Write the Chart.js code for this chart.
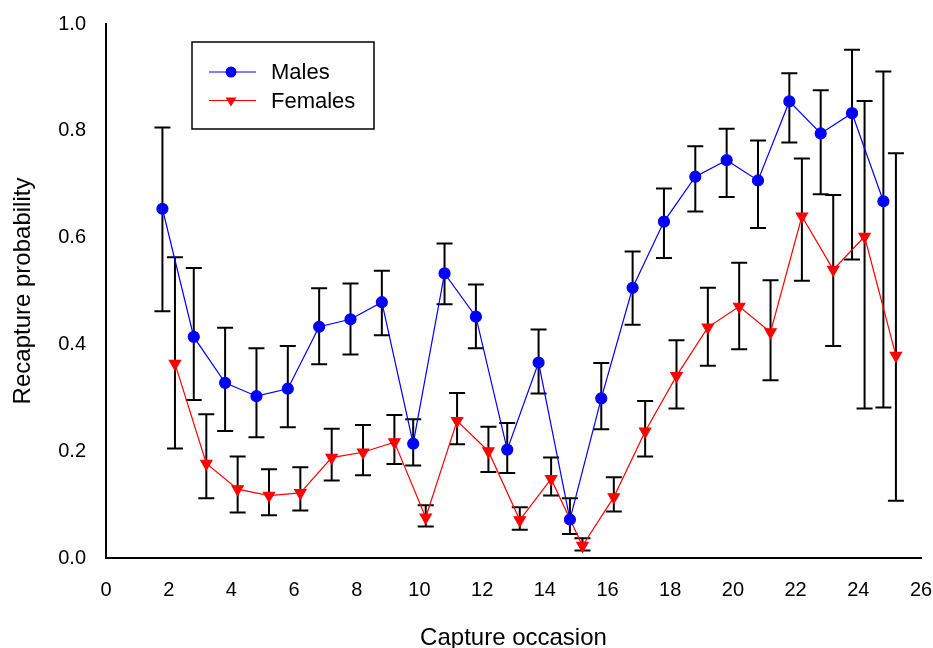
<!DOCTYPE html>
<html>
<head>
<meta charset="utf-8">
<script src="https://cdn.jsdelivr.net/npm/chart.js@4.4.1/dist/chart.umd.min.js"></script>
<style>
  html, body { margin: 0; padding: 0; background: #fff; }
  #wrap { width: 933px; height: 648px; }
</style>
</head>
<body>
<div id="wrap"><canvas id="myChart" width="933" height="648"></canvas></div>
<script>
// capture occasions (males drawn 0.2 left, females 0.2 right)
const occasions = [2, 3, 4, 5, 6, 7, 8, 9, 10, 11, 12, 13, 14, 15, 16, 17, 18, 19, 20, 21, 22, 23, 24, 25]

const malesP = [0.654, 0.414, 0.328, 0.303, 0.317, 0.433, 0.447, 0.479, 0.214, 0.533, 0.452, 0.203, 0.366, 0.072, 0.299, 0.506, 0.630, 0.714, 0.745, 0.707, 0.855, 0.795, 0.833, 0.668]
const malesLo = [0.462, 0.296, 0.238, 0.226, 0.245, 0.363, 0.381, 0.417, 0.173, 0.475, 0.393, 0.159, 0.308, 0.045, 0.241, 0.437, 0.562, 0.649, 0.676, 0.618, 0.778, 0.681, 0.559, 0.282]
const malesHi = [0.806, 0.543, 0.431, 0.393, 0.397, 0.505, 0.514, 0.538, 0.260, 0.589, 0.512, 0.253, 0.428, 0.112, 0.365, 0.574, 0.692, 0.771, 0.804, 0.782, 0.908, 0.876, 0.952, 0.911]

const femalesP = [0.364, 0.177, 0.129, 0.117, 0.122, 0.188, 0.198, 0.217, 0.076, 0.257, 0.200, 0.071, 0.148, 0.023, 0.114, 0.237, 0.341, 0.432, 0.471, 0.423, 0.640, 0.540, 0.602, 0.379]
const femalesLo = [0.205, 0.112, 0.085, 0.080, 0.089, 0.145, 0.155, 0.176, 0.059, 0.213, 0.161, 0.053, 0.117, 0.014, 0.087, 0.190, 0.280, 0.360, 0.391, 0.333, 0.519, 0.397, 0.280, 0.107]
const femalesHi = [0.563, 0.269, 0.190, 0.166, 0.170, 0.242, 0.249, 0.268, 0.099, 0.309, 0.246, 0.095, 0.188, 0.037, 0.151, 0.294, 0.408, 0.506, 0.553, 0.520, 0.748, 0.680, 0.856, 0.758]

const xTicks = [0, 2, 4, 6, 8, 10, 12, 14, 16, 18, 20, 22, 24, 26]
const yTicks = [0.0, 0.2, 0.4, 0.6, 0.8, 1.0]

const fontName = "'Liberation Sans', Arial, sans-serif"

function toPoints(offset, vals, lo, hi) {
    return occasions.map((o, i) => {
        return { x: o + offset, y: vals[i], lo: lo[i], hi: hi[i] }
    })
}

// error bars behind the markers
const errorBars = {
    id: 'errorBars',
    beforeDatasetsDraw(chart) {
        const ctx = chart.ctx
        const xs = chart.scales.x
        const ys = chart.scales.y
        ctx.save()
        ctx.strokeStyle = '#000'
        ctx.lineWidth = 2
        chart.data.datasets.forEach(ds => {
            ds.data.forEach(p => {
                const px = xs.getPixelForValue(p.x)
                const top = ys.getPixelForValue(p.hi)
                const bot = ys.getPixelForValue(p.lo)
                ctx.beginPath()
                ctx.moveTo(px, top); ctx.lineTo(px, bot)
                ctx.moveTo(px - 8, top); ctx.lineTo(px + 8, top)
                ctx.moveTo(px - 8, bot); ctx.lineTo(px + 8, bot)
                ctx.stroke()
            })
        })
        ctx.restore()
    }
}

// boxed legend inside the plot
const boxLegend = {
    id: 'boxLegend',
    afterDraw(chart) {
        const ctx = chart.ctx
        const x0 = 192, y0 = 42, w = 182, h = 87
        ctx.save()
        ctx.fillStyle = '#fff'
        ctx.fillRect(x0, y0, w, h)
        ctx.strokeStyle = '#000'
        ctx.lineWidth = 1.5
        ctx.strokeRect(x0, y0, w, h)
        ctx.font = "22px " + fontName
        ctx.textBaseline = 'middle'
        chart.data.datasets.forEach((ds, i) => {
            const cy = y0 + 30 + i * 28.5
            ctx.strokeStyle = ds.borderColor
            ctx.lineWidth = 1.2
            ctx.beginPath()
            ctx.moveTo(x0 + 17, cy); ctx.lineTo(x0 + 64, cy)
            ctx.stroke()
            ctx.fillStyle = ds.pointBackgroundColor
            ctx.beginPath()
            if (ds.pointStyle === 'circle') {
                ctx.arc(x0 + 39, cy, 5.5, 0, Math.PI * 2)
            } else {
                ctx.moveTo(x0 + 33.5, cy - 3); ctx.lineTo(x0 + 44.5, cy - 3); ctx.lineTo(x0 + 39, cy + 6)
                ctx.closePath()
            }
            ctx.fill()
            ctx.fillStyle = '#000'
            ctx.fillText(ds.label, x0 + 79, cy + 1)
        })
        ctx.restore()
    }
}

const ctx = document.getElementById("myChart").getContext("2d")
window.myChart = new Chart(ctx, {
    type: 'line',
    data: {
        datasets: [{
            label: 'Males',
            data: toPoints(-0.2, malesP, malesLo, malesHi),
            borderColor: '#0000ff',
            backgroundColor: '#0000ff',
            pointBackgroundColor: '#0000ff',
            pointBorderColor: '#0000ff',
            pointStyle: 'circle',
            pointRadius: 5.5,
            borderWidth: 1.2,
            tension: 0
        }, {
            label: 'Females',
            data: toPoints(0.2, femalesP, femalesLo, femalesHi),
            borderColor: '#ff0000',
            backgroundColor: '#ff0000',
            pointBackgroundColor: '#ff0000',
            pointBorderColor: '#ff0000',
            pointStyle: 'triangle',
            rotation: 180,
            pointRadius: 6.5,
            borderWidth: 1.2,
            tension: 0
        }]
    },
    options: {
        responsive: false,
        animation: false,
        layout: { padding: { left: 0, right: 0, top: 23, bottom: 0 } },
        plugins: {
            legend: { display: false },
            tooltip: { enabled: false }
        },
        scales: {
            x: {
                type: 'linear',
                min: 0,
                max: 26,
                afterBuildTicks: axis => { axis.ticks = xTicks.map(v => ({ value: v })) },
                afterFit: axis => { axis.height = 90; axis.paddingRight = 12; axis.paddingLeft = 0 },
                grid: { display: false, drawTicks: true, tickLength: 8, tickColor: '#000', tickWidth: 2 },
                border: { color: '#000', width: 2 },
                ticks: { color: '#000', font: { family: fontName, size: 20 }, padding: 12, maxRotation: 0 },
                title: { display: true, text: 'Capture occasion', color: '#000', font: { family: fontName, size: 24, lineHeight: 0.8 }, padding: { top: 0, bottom: 0 } }
            },
            y: {
                min: 0,
                max: 1,
                afterBuildTicks: axis => { axis.ticks = yTicks.map(v => ({ value: v })) },
                afterFit: axis => { axis.width = 106 },
                grid: { display: false, drawTicks: true, tickLength: 8, tickColor: '#000', tickWidth: 2 },
                border: { color: '#000', width: 2 },
                ticks: { color: '#000', font: { family: fontName, size: 20 }, padding: 12, callback: v => v.toFixed(1) },
                title: { display: true, text: 'Recapture probability', color: '#000', font: { family: fontName, size: 24 }, padding: { top: 9, bottom: 0 } }
            }
        }
    },
    plugins: [errorBars, boxLegend]
})
</script>
</body>
</html>
